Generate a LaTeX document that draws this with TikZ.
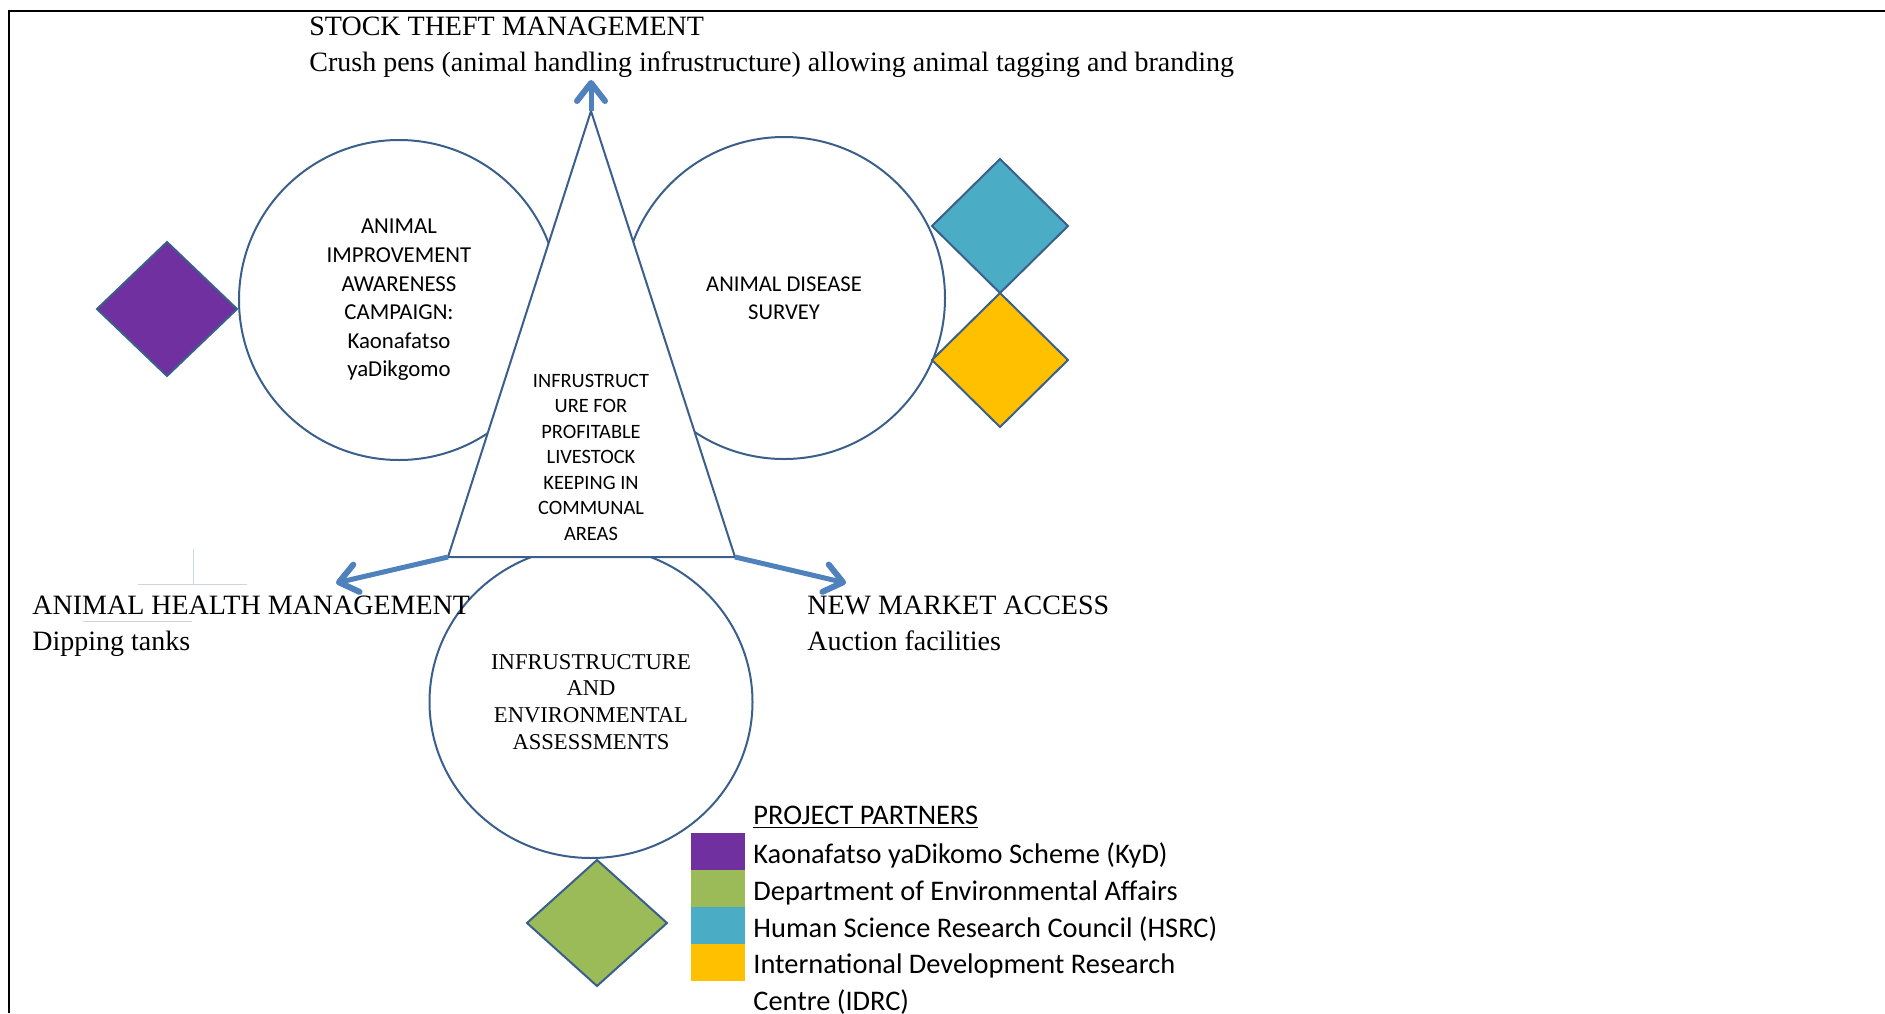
\documentclass[tikz,border=0pt]{standalone}
\usepackage{fontspec}
\setmainfont{Liberation Serif}
\newfontfamily\calibri{Carlito}
\usepackage{tikz}
\usetikzlibrary{arrows.meta,shapes.geometric,positioning}

\definecolor{rim}{HTML}{3A5F8B}
\definecolor{flowblue}{HTML}{4F81BD}
\definecolor{kyd}{HTML}{7030A0}
\definecolor{dea}{HTML}{9BBB59}
\definecolor{hsrc}{HTML}{4BACC6}
\definecolor{idrc}{HTML}{FFC000}
\definecolor{ghost}{HTML}{CDD5E3}

\begin{document}
\begin{tikzpicture}[x=0.5pt,y=-0.5pt,
	bubble/.style={circle,draw=rim,line width=1pt,inner sep=0pt,align=center,font=\calibri\fontsize{11.4}{14.3}\selectfont},
	partner/.style={diamond,draw=rim,line width=1pt,inner sep=0pt,outer sep=0pt,minimum width=70pt,minimum height=67pt},
	swatch/.style={rectangle,inner sep=0pt,outer sep=0pt,minimum width=27pt,minimum height=18.5pt},
	legtext/.style={inner sep=0pt,anchor=base west,align=left,font=\calibri\fontsize{14.2}{18.5}\selectfont},
	heading/.style={inner sep=0pt,anchor=base west,align=left,font=\fontsize{14}{18}\selectfont},
	flow/.style={draw=flowblue,line width=2.5pt,-{Straight Barb[length=9pt,width=14pt,line width=3pt,round]}}]
	\useasboundingbox (0,0) rectangle (1885,1013);

	\draw[line width=1pt] (9,1013) -- (9,11) -- (1233,11);
	\draw[line width=1.3pt] (1233,11) -- (1885,11);
	\draw[ghost,line width=0.5pt] (193,549) -- (193,584) (138,584) -- (247,584) (83,621) -- (192,621);

	\node[bubble,minimum size=160pt]	(improve)	at (399,300)	{ANIMAL\\IMPROVEMENT\\AWARENESS\\CAMPAIGN:\\Kaonafatso\\yaDikgomo};
	\node[bubble,minimum size=161pt,font=\calibri\fontsize{11.3}{14}\selectfont]	(disease)	at (784,298)	{ANIMAL DISEASE\\SURVEY};
	\node[bubble,ellipse,minimum width=161.5pt,minimum height=156pt,font=\fontsize{11.3}{13.4}\selectfont]	(assess)	at (591,702)	{INFRUSTRUCTURE\\AND\\ENVIRONMENTAL\\ASSESSMENTS};

	\node[partner,fill=kyd]	(kydmark)	at (167,309)	{};
	\node[partner,fill=hsrc,minimum width=68pt]	(hsrcmark)	at (1000,226)	{};
	\node[partner,fill=idrc,minimum width=68pt]	(idrcmark)	[below=0pt of hsrcmark]	{};
	\node[partner,fill=dea,minimum height=63pt]	(deamark)	at (597,923)	{};

	\coordinate (apex)	at (591,111);
	\coordinate (baseL)	at (448,557);
	\coordinate (baseR)	at (735,557);
	\filldraw[fill=white,draw=rim,line width=1pt] (apex) -- (baseR) -- (baseL) -- cycle;
	\node[align=center,font=\calibri\fontsize{10.2}{12.75}\selectfont]	(hub)	at (591,457)	{INFRUSTRUCT\\URE FOR\\PROFITABLE\\LIVESTOCK\\KEEPING IN\\COMMUNAL\\AREAS};

	\coordinate (theft)	at (591,80);
	\coordinate (health)	at (336,583);
	\coordinate (market)	at (846,583);
	\path
		(apex)	edge	[flow]	(theft)
		(baseL)	edge	[flow]	(health)
		(baseR)	edge	[flow]	(market);

	\node[heading]	(theftlabel)	at (309,71)	{STOCK THEFT MANAGEMENT\\Crush pens (animal handling infrustructure) allowing animal tagging and branding};
	\node[heading]	(healthlabel)	at (32,650)	{ANIMAL HEALTH MANAGEMENT\\Dipping tanks};
	\node[heading]	(marketlabel)	at (807,650)	{NEW MARKET ACCESS\\Auction facilities};

	\node[swatch,fill=kyd]	(kydkey)	at (718,851.5)	{};
	\node[swatch,fill=dea]	(deakey)	[below=0pt of kydkey]	{};
	\node[swatch,fill=hsrc]	(hsrckey)	[below=0pt of deakey]	{};
	\node[swatch,fill=idrc]	(idrckey)	[below=0pt of hsrckey]	{};

	\node[legtext]	(partners)	at ([xshift=4pt,yshift=4.5pt]kydkey.north east)	{\underline{PROJECT PARTNERS}};
	\node[legtext]	(kydtext)	at ([xshift=4pt,yshift=3.5pt]kydkey.south east)	{Kaonafatso yaDikomo Scheme (KyD)};
	\node[legtext]	(deatext)	at ([xshift=4pt,yshift=3.5pt]deakey.south east)	{Department of Environmental Affairs};
	\node[legtext]	(hsrctext)	at ([xshift=4pt,yshift=3.5pt]hsrckey.south east)	{Human Science Research Council (HSRC)};
	\node[legtext]	(idrctext)	at ([xshift=4pt,yshift=-14.5pt]idrckey.south east)	{International Development Research\\Centre (IDRC)};
\end{tikzpicture}
\end{document}
